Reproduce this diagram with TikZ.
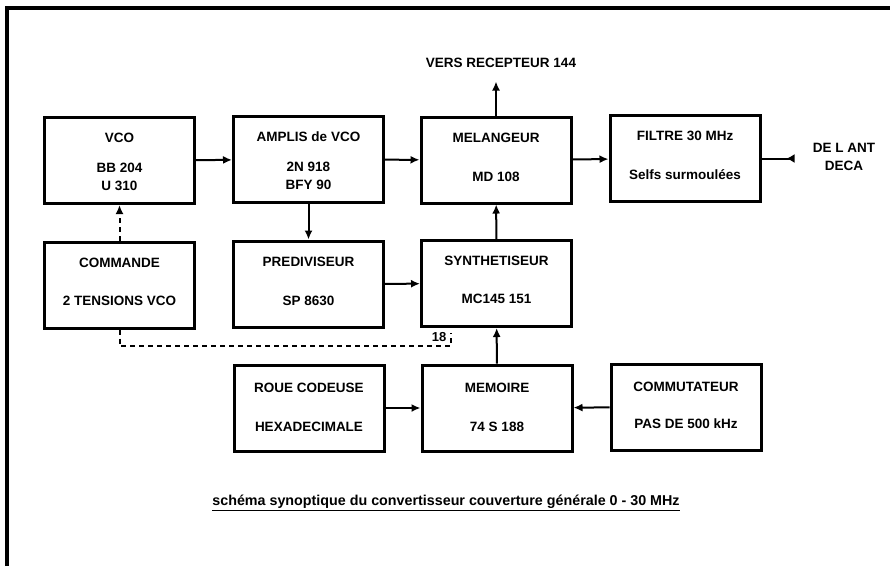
\documentclass[tikz,border=0pt]{standalone}
\usepackage{fontspec}
\setmainfont{Liberation Sans}
\usetikzlibrary{arrows.meta}
\tikzset{
	bloc/.style={draw, line width=3pt, minimum width=150pt, minimum height=86pt, inner sep=0pt},
	txt/.style={font=\fontsize{13.5}{18}\selectfont\bfseries, align=center, inner sep=1pt},
	fl/.style={line width=2pt, -{Latex[length=9pt,width=8pt]}},
	pointille/.style={line width=2pt, dash pattern=on 5pt off 4pt},
}
\begin{document}
\begin{tikzpicture}[x=1pt,y=-1pt]
			\useasboundingbox (0,0) rectangle (890,566);
			\draw[line width=3.5pt] (7,566) -- (7,8) -- (890,8);
			% rangee du haut
			\node[bloc] (vco) at (119.5,160.5) {};
			\node[bloc] (ampli) at (308.5,159.5) {};
			\node[bloc] (melange) at (496,160) {};
			\node[bloc] (filtre) at (685,158.5) {};
			% rangee du milieu
			\node[bloc] (commande) at (119.5,285) {};
			\node[bloc] (prediv) at (308.5,284) {};
			\node[bloc] (synth) at (496.5,283.5) {};
			% rangee du bas
			\node[bloc] (roue) at (309,408) {};
			\node[bloc] (memoire) at (497,408) {};
			\node[bloc] (commut) at (686,407) {};
			% textes
			\node[txt] (vcot) at ([yshift=-22pt]vco.north) {VCO};
			\node[txt] (vcob) at ([yshift=-61pt]vco.north) {BB 204\\U 310};
			\node[txt] (amplit) at ([yshift=-22pt]ampli.north) {AMPLIS de VCO};
			\node[txt] (amplib) at ([yshift=-61pt]ampli.north) {2N 918\\BFY 90};
			\node[txt] (melanget) at ([yshift=-22pt]melange.north) {MELANGEUR};
			\node[txt] (melangeb) at ([yshift=-61pt]melange.north) {MD 108};
			\node[txt] (filtret) at ([yshift=-22pt]filtre.north) {FILTRE 30 MHz};
			\node[txt] (filtreb) at ([yshift=-61pt]filtre.north) {Selfs surmoulées};
			\node[txt] (commandet) at ([yshift=-22pt]commande.north) {COMMANDE};
			\node[txt] (commandeb) at ([yshift=-60pt]commande.north) {2 TENSIONS VCO};
			\node[txt] (predivt) at ([yshift=-22pt]prediv.north) {PREDIVISEUR};
			\node[txt] (predivb) at ([yshift=-61pt]prediv.north) {SP 8630};
			\node[txt] (syntht) at ([yshift=-22pt]synth.north) {SYNTHETISEUR};
			\node[txt] (synthb) at ([yshift=-60pt]synth.north) {MC145 151};
			\node[txt] (rouet) at ([yshift=-24pt]roue.north) {ROUE CODEUSE};
			\node[txt] (roueb) at ([yshift=-63pt]roue.north) {HEXADECIMALE};
			\node[txt] (memoiret) at ([yshift=-24pt]memoire.north) {MEMOIRE};
			\node[txt] (memoireb) at ([yshift=-63pt]memoire.north) {74 S 188};
			\node[txt] (commutt) at ([yshift=-24pt]commut.north) {COMMUTATEUR};
			\node[txt] (commutb) at ([yshift=-61pt]commut.north) {PAS DE 500 kHz};
			% entree et sortie
			\coordinate (sortie) at ([yshift=34pt]melange.north);
			\node[txt] (vers) at (501,63) {VERS RECEPTEUR 144};
			\coordinate (ant) at ([xshift=33pt]filtre.east);
			\node[txt] (antenne) at (844,157) {DE L ANT\\DECA};
			% liaisons
			\draw[fl] (vco) -- (ampli);
			\draw[fl] (ampli) -- (melange);
			\draw[fl] (melange) -- (filtre);
			\draw[fl] (melange.north) -- (sortie);
			\draw[line width=2pt, -{Latex[reversed,length=8pt,width=9pt]}] (filtre) -- (ant);
			\draw[fl] (ampli) -- (prediv);
			\draw[fl] (prediv) -- (synth);
			\draw[fl] (synth) -- (melange);
			\draw[fl] (memoire) -- (synth);
			\draw[fl] (roue) -- (memoire);
			\draw[fl] (commut) -- (memoire);
			\draw[fl, pointille] (commande) -- (vco);
			\coordinate (b1) at (451,346);
			\coordinate (b2) at (451,333);
			\draw[pointille] (commande.south) |- (b1) -- (b2);
			\node[font=\fontsize{13}{15}\selectfont\bfseries, inner sep=1pt] (n18) at (439,337) {18};
			\node[font=\fontsize{14.3}{16}\selectfont\bfseries, inner sep=0pt] (legende) at (446,503) {\underline{schéma synoptique du convertisseur couverture générale 0 - 30 MHz}};
\end{tikzpicture}
\end{document}
